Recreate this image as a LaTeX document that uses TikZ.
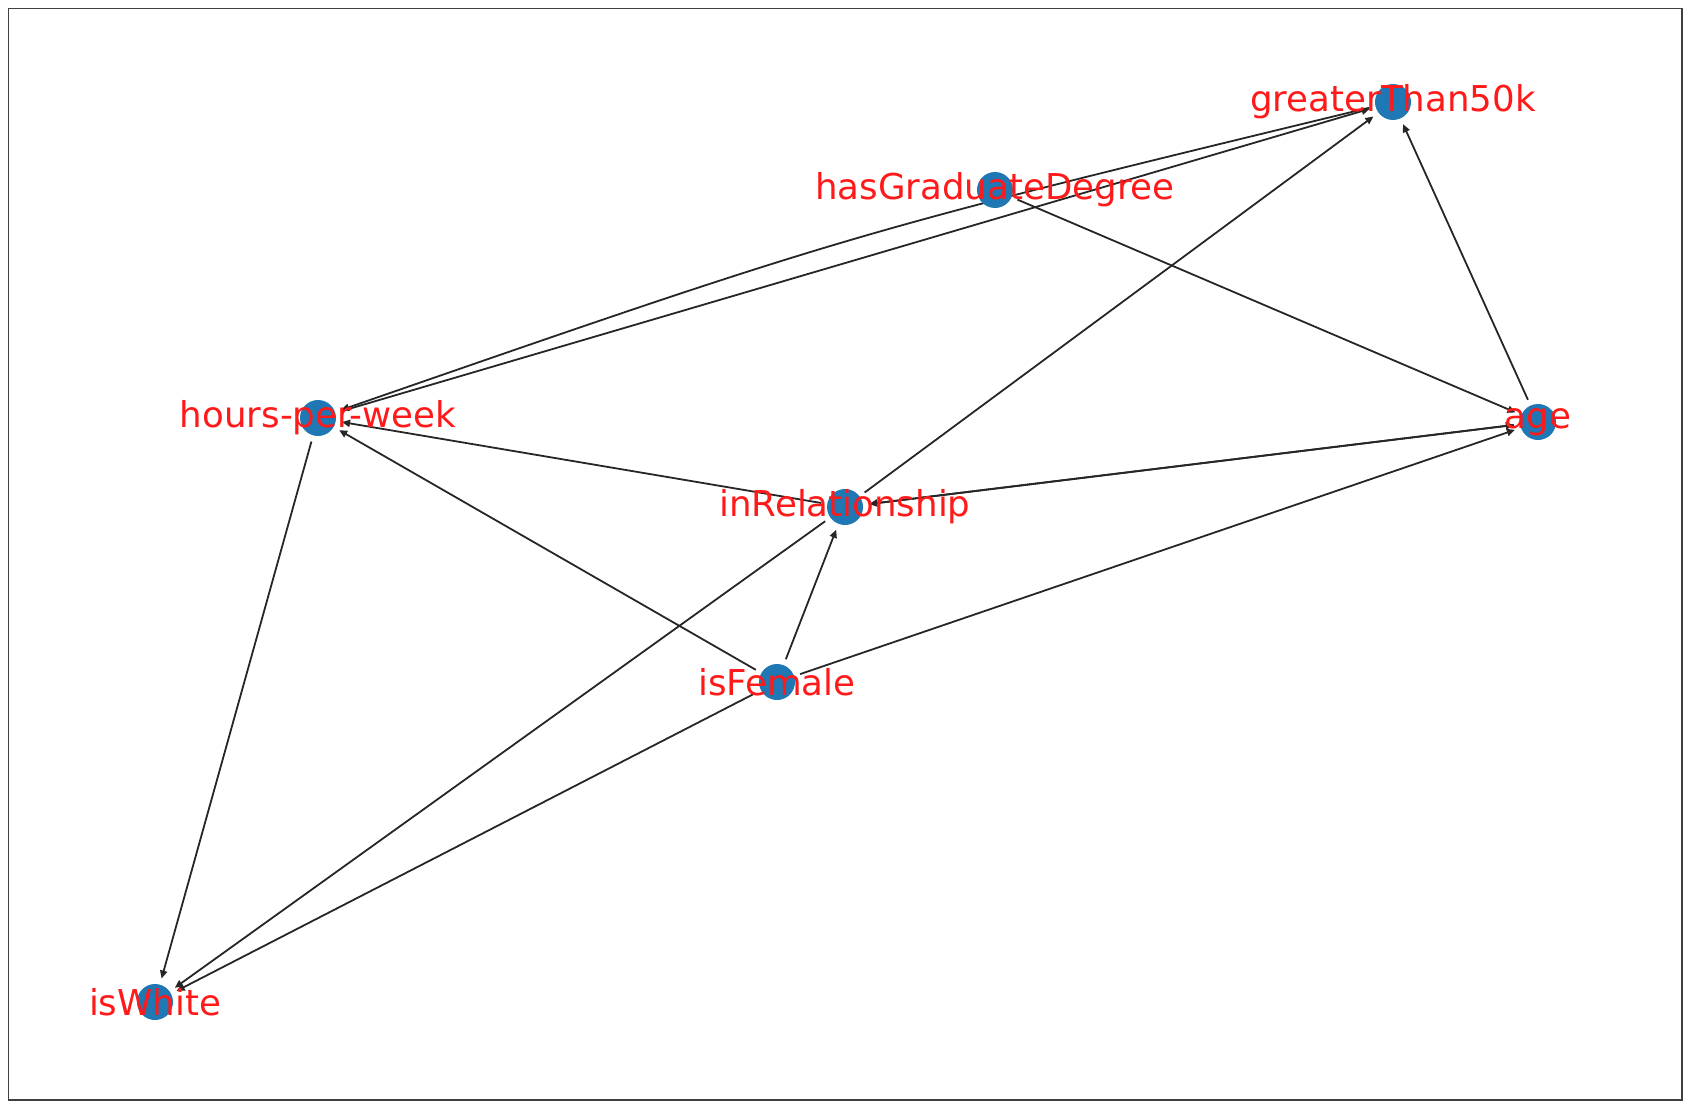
\documentclass[tikz,border=0pt]{standalone}
\usepackage{fontspec}
\setmainfont{DejaVu Sans}
\usetikzlibrary{arrows.meta}
\pgfdeclarelayer{background}
\pgfsetlayers{background,main}
\definecolor{nodeblue}{HTML}{1F77B4}
\definecolor{labelred}{RGB}{255,25,25}
\begin{document}
\begin{tikzpicture}[x=0.5pt,y=-0.5pt,
  dot/.style={circle,fill=nodeblue,draw=none,minimum size=18pt,inner sep=0pt},
  lbl/.style={text=labelred,inner sep=0pt,font=\fontsize{17.8}{20}\selectfont},
  edge/.style={draw=black!85,line width=0.9pt,-{Triangle[length=4pt,width=3.6pt]},shorten >=3pt,shorten <=3pt}]
\useasboundingbox (0,0) rectangle (1694,1108);
\draw[line width=0.8pt,black!75] (8.6,8.6) rectangle (1682,1100);
% nodes
\node[dot] (g) at (1393,102) {};
\node[dot] (hg) at (995,190) {};
\node[dot] (h) at (318,418) {};
\node[dot] (a) at (1538,422) {};
\node[dot] (r) at (845,507) {};
\node[dot] (f) at (777,682) {};
\node[dot] (w) at (155,1002) {};
\coordinate (ctl) at (847.9,234.1);
% edges
\begin{pgfonlayer}{background}
\draw[edge] (hg) -- (a);
\draw[edge] (a) -- (g);
\draw[edge] (r) -- (g);
\draw[edge] (h) -- (g);
\draw[edge] (g) .. controls (ctl) .. (h);
\draw[edge] (r) -- (h);
\draw[edge] (a) -- (r);
\draw[edge] (r) -- (a);
\draw[edge] (f) -- (r);
\draw[edge] (f) -- (h);
\draw[edge] (f) -- (a);
\draw[edge] (f) -- (w);
\draw[edge] (r) -- (w);
\draw[edge] (h) -- (w);
\end{pgfonlayer}
% labels
\node[lbl] (gL) at (g) {greaterThan50k};
\node[lbl] (hgL) at (hg) {hasGraduateDegree};
\node[lbl] (hL) at (h) {hours-per-week};
\node[lbl] (aL) at (a) {age};
\node[lbl] (rL) at (r) {inRelationship};
\node[lbl] (fL) at (f) {isFemale};
\node[lbl] (wL) at (w) {isWhite};
\end{tikzpicture}
\end{document}
